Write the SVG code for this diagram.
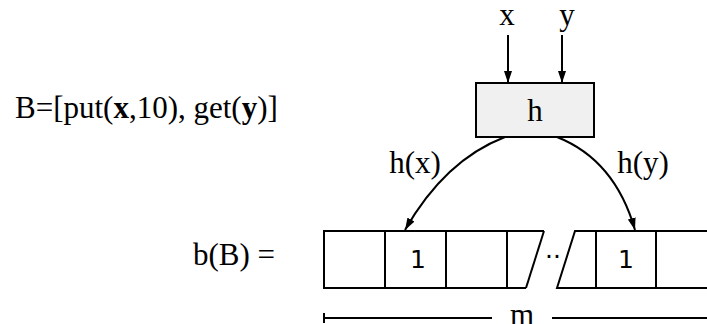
<svg xmlns="http://www.w3.org/2000/svg" width="707" height="324" viewBox="0 0 707 324">
<style>
.t{font-family:"Liberation Serif","Times New Roman",serif;font-size:31px;fill:#000}
.d{font-family:"DejaVu Sans",sans-serif;font-size:25px;fill:#000}
.s{fill:none;stroke:#000;stroke-width:2}
</style>
<defs>
<marker id="ah" viewBox="0 0 12 8" refX="12" refY="4" markerWidth="6" markerHeight="4" orient="auto" markerUnits="strokeWidth">
<path d="M0,0 L12,4 L0,8 z" fill="#000"/>
</marker>
</defs>
<rect width="707" height="324" fill="#fff"/>
<g id="formula"><text class="t" x="15" y="118">B=[put(<tspan font-weight="bold">x</tspan>,10), get(<tspan font-weight="bold">y</tspan>)]</text></g>
<g id="inx"><text class="t" x="507" y="25" text-anchor="middle">x</text></g>
<g id="iny"><text class="t" x="567" y="25" text-anchor="middle">y</text></g>
<g id="h">
<rect x="476" y="83" width="118" height="54" fill="#f0f0f0" stroke="#000" stroke-width="2"/>
<text class="t" x="535" y="121" text-anchor="middle">h</text>
</g>
<g id="labels">
<text class="t" x="415" y="173" text-anchor="middle">h(x)</text>
<text class="t" x="643" y="173" text-anchor="middle">h(y)</text>
</g>
<g id="bB"><text class="t" x="193" y="265">b(B) =</text></g>
<g id="array">
<path class="s" d="M544,231 L324,231 L324,288 L526,288"/>
<path class="s" d="M385,231 V288 M446,231 V288 M507,231 V288"/>
<path class="s" d="M544,231 L526,288"/>
<path class="s" d="M707,231 L575,231 L557,288 L707,288"/>
<path class="s" d="M596,231 V288 M656,231 V288"/>
<text class="d" x="545" y="265" font-size="20">··</text>
<text class="d" x="418" y="268" text-anchor="middle">1</text>
<text class="d" x="626" y="268" text-anchor="middle">1</text>
</g>
<g id="scale">
<path class="s" d="M324,313 V323 M324,318 H492 M552,318 H707"/>
<text class="t" x="522" y="325" text-anchor="middle">m</text>
</g>
<g id="connectors">
<path class="s" d="M508,35 V83" marker-end="url(#ah)"/>
<path class="s" d="M562,35 V83" marker-end="url(#ah)"/>
<path class="s" d="M505,137 Q445,160 405,230" marker-end="url(#ah)"/>
<path class="s" d="M557,137 Q615,160 635,230" marker-end="url(#ah)"/>
</g>
</svg>
